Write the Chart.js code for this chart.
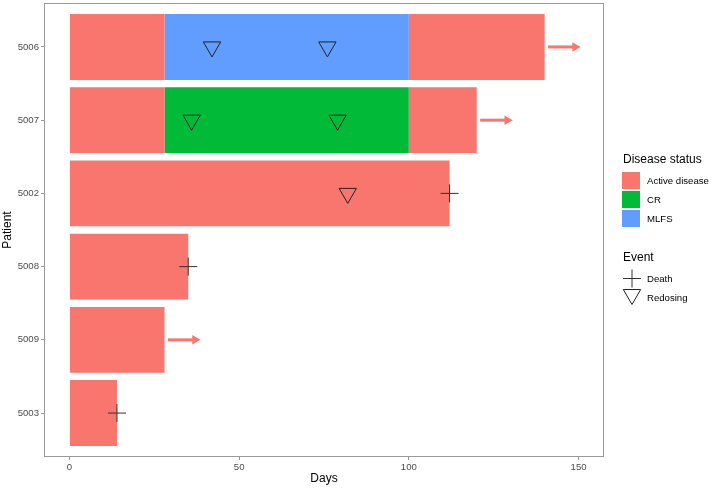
<!DOCTYPE html>
<html>
<head>
<meta charset="utf-8">
<script src="https://cdn.jsdelivr.net/npm/chart.js@4.4.1/dist/chart.umd.min.js"></script>
<style>
  body { margin: 0; background: #fff; font-family: "Liberation Sans", Arial, sans-serif; }
  #wrap { position: relative; width: 714px; height: 490px; }
  .lg-title { position: absolute; left: 623px; font-size: 12px; line-height: 14px; color: #000; }
  .lg-row { position: absolute; left: 622px; height: 19px; display: flex; align-items: center; font-size: 9.6px; color: #000; }
  .key { width: 18px; height: 17px; margin-right: 7px; }
  .icon { width: 20px; height: 19px; margin-right: 5px; }
</style>
</head>
<body>
<div id="wrap">
  <canvas id="swimmer" width="714" height="490"></canvas>
  <div id="legend"></div>
</div>
<script>
// patients, top to bottom
const patients = ['5006', '5007', '5002', '5008', '5009', '5003'];

// disease status segments, [start day, end day]
const activeFirst = [[0, 28], [0, 28], [0, 112], [0, 35], [0, 28], [0, 14]];
const activeLater = [[100, 140], [100, 120], null, null, null, null];
const crDays = [null, [28, 100], null, null, null, null];
const mlfsDays = [[28, 100], null, null, null, null, null];

// events
const redosingDays = [[42, 76], [36, 79], [82], [], [], []];
const deathDays = [null, null, 112, 35, null, 14];

// still on study arrows
const ongoingFrom = [141, 121, null, null, 29, null];
const ongoingTo = [149, 129, null, null, 37, null];

const dayTicks = [0, 50, 100, 150];

const statusLabels = ['Active disease', 'CR', 'MLFS'];
const statusColors = ['#F8766D', '#00BA38', '#619CFF'];
const eventLabels = ['Death', 'Redosing'];

const axisGray = '#9a9a9a';

function toBars(segs) {
  return segs.map((s, i) => s ? { x: s, y: i } : null).filter(Boolean);
}

function barSet(label, segs, color) {
  return {
    type: 'bar',
    label: label,
    data: toBars(segs),
    backgroundColor: color,
    borderWidth: 0,
    grouped: false,
    barPercentage: 0.9,
    categoryPercentage: 1,
    order: 3
  };
}

const datasets = [
  barSet('Active disease', activeFirst, statusColors[0]),
  barSet('Active disease', activeLater, statusColors[0]),
  barSet('CR', crDays, statusColors[1]),
  barSet('MLFS', mlfsDays, statusColors[2])
];

// arrows
ongoingFrom.forEach((from, i) => {
  if (from === null) return;
  datasets.push({
    type: 'line',
    data: [{ x: from, y: i }, { x: ongoingTo[i], y: i }],
    borderColor: statusColors[0],
    borderWidth: 3,
    pointRadius: [0, 5.5],
    pointStyle: 'triangle',
    pointRotation: 90,
    pointBackgroundColor: statusColors[0],
    pointBorderWidth: 0,
    order: 2
  });
});

const redosingPts = [];
redosingDays.forEach((days, i) => days.forEach(d => redosingPts.push({ x: d, y: i })));
const deathPts = deathDays.map((d, i) => d === null ? null : { x: d, y: i }).filter(Boolean);

datasets.push({
  type: 'scatter',
  label: 'Death',
  data: deathPts,
  pointStyle: 'cross',
  pointRadius: 9,
  borderColor: '#333',
  borderWidth: 1,
  order: 1
});
datasets.push({
  type: 'scatter',
  label: 'Redosing',
  data: redosingPts,
  pointStyle: 'triangle',
  rotation: 180,
  pointRadius: 10,
  backgroundColor: 'rgba(0,0,0,0)',
  borderColor: '#222',
  borderWidth: 1,
  order: 1
});

const panelBorder = {
  id: 'panelBorder',
  afterDraw(chart) {
    const { ctx, chartArea: a } = chart;
    ctx.save();
    ctx.strokeStyle = axisGray;
    ctx.lineWidth = 1;
    ctx.strokeRect(a.left + 0.5, a.top + 0.5, a.right - a.left - 1, a.bottom - a.top - 1);
    ctx.restore();
  }
};

function noLabelPadding(s) {
  s.paddingTop = 0;
  s.paddingBottom = 0;
  s.paddingLeft = 0;
  s.paddingRight = 0;
}

const tickFont = { family: '"Liberation Sans", Arial, sans-serif', size: 9.6 };
const titleFont = { family: '"Liberation Sans", Arial, sans-serif', size: 12 };

new Chart(document.getElementById('swimmer'), {
  data: { datasets: datasets },
  options: {
    indexAxis: 'y',
    responsive: false,
    animation: false,
    layout: { autoPadding: false, padding: { top: 3, right: 110, left: 0, bottom: 0 } },
    plugins: { legend: { display: false }, tooltip: { enabled: false } },
    scales: {
      x: {
        type: 'linear',
        min: -7.5,
        max: 157.5,
        offset: false,
        afterBuildTicks: s => { s.ticks = dayTicks.map(v => ({ value: v })); },
        afterFit: s => { s.height = 33; noLabelPadding(s); },
        grid: { drawOnChartArea: false, offset: false, tickLength: 3, color: axisGray },
        border: { display: false },
        ticks: { font: tickFont, color: '#4d4d4d', padding: 2, maxRotation: 0 },
        title: { display: true, text: 'Days', font: titleFont, color: '#000', padding: { top: 0, bottom: 4 } }
      },
      y: {
        type: 'linear',
        reverse: true,
        min: -0.6,
        max: 5.6,
        offset: false,
        afterBuildTicks: s => { s.ticks = patients.map((p, i) => ({ value: i })); },
        afterFit: s => { s.width = 44; noLabelPadding(s); },
        grid: { drawOnChartArea: false, offset: false, tickLength: 3, color: axisGray },
        border: { display: false },
        ticks: { font: tickFont, color: '#4d4d4d', padding: 2, callback: v => patients[v] },
        title: { display: true, text: 'Patient', font: titleFont, color: '#000', padding: { top: 0, bottom: 0 } }
      }
    }
  },
  plugins: [panelBorder]
});

// legend, ggplot style
const legend = document.getElementById('legend');
let html = '<div class="lg-title" style="top:152px">Disease status</div>';
statusLabels.forEach((lab, i) => {
  html += '<div class="lg-row" style="top:' + (170.5 + i * 19) + 'px"><div class="key" style="background:' +
    statusColors[i] + '"></div>' + lab + '</div>';
});
html += '<div class="lg-title" style="top:250px">Event</div>';
const icons = [
  '<svg class="icon" viewBox="0 0 20 19"><path d="M1 9.5H19M10 0.5V18.5" stroke="#333" stroke-width="1" fill="none"/></svg>',
  '<svg class="icon" viewBox="0 0 20 19"><path d="M1.3 1.5H18.7L10 16.5Z" stroke="#222" stroke-width="1" fill="none"/></svg>'
];
eventLabels.forEach((lab, i) => {
  html += '<div class="lg-row" style="top:' + (268.5 + i * 19) + 'px">' + icons[i] + lab + '</div>';
});
legend.innerHTML = html;
</script>
</body>
</html>
